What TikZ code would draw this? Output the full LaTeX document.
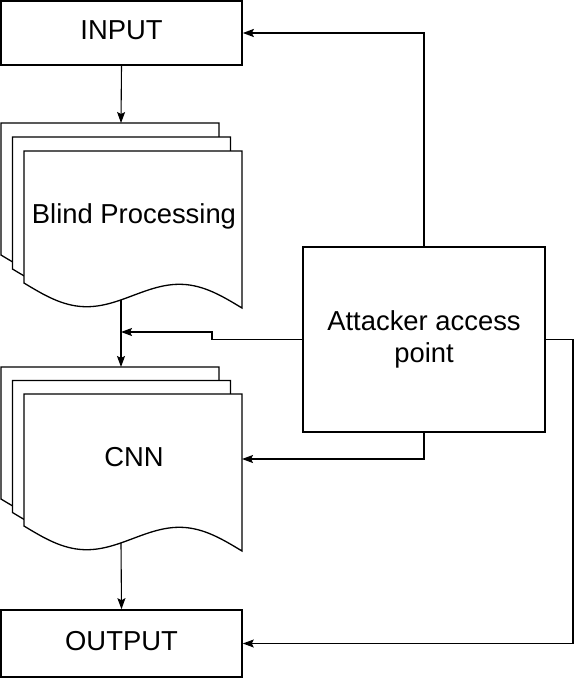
\documentclass[tikz,border=0pt]{standalone}
\usepackage{fontspec}
\setmainfont{Liberation Sans}
\usetikzlibrary{arrows.meta}
\newcommand\mydocsheet[2]{%
  \filldraw[sheet,shift={(#1,#2)}] (0,132) -- (0,0) -- (218,0) -- (218,157)
    -- plot[domain=218:0,samples=60,smooth] (\x,{132+0.11468*\x+17*sin(1.65138*\x)}) -- cycle;}
\begin{document}
\begin{tikzpicture}[x=1pt,y=-1pt,
  lbl/.style={font=\fontsize{27.4}{32}\selectfont},
  box/.style={draw, fill=white, line width=1.6pt, inner sep=0pt, lbl},
  capbox/.style={box, minimum width=241pt, text height=13pt, text depth=0pt},
  sheet/.style={draw, fill=white, line width=1.3pt, line join=miter},
  conn/.style={line width=1.1pt, -{Stealth[length=11pt,width=8pt,inset=2pt]}}]
\path[fill=white,use as bounding box] (0,0) rectangle (574,678);

% boxes
\node[capbox, minimum height=64pt] (input) at (121.5,33) {INPUT};
\node[capbox, minimum height=67pt] (output) at (121.5,643.5) {OUTPUT};
\node[box, line width=2.6pt, minimum width=242pt, minimum height=185pt, align=center] (att) at (424,339.5) {Attacker access\\point};

% Blind Processing stack
\mydocsheet{1}{123}
\mydocsheet{12.5}{137}
\mydocsheet{24}{151}
\node[lbl, anchor=base] (bp) at (134,223) {Blind Processing};

% CNN stack
\mydocsheet{1}{367}
\mydocsheet{12.5}{380.5}
\mydocsheet{24}{394}
\node[lbl, anchor=base] (cnn) at (134,466) {CNN};

\coordinate (bptop) at (121,123);
\coordinate (bpbot) at (121,300);
\coordinate (cnntop) at (121,367);
\coordinate (cnnbot) at (121,543);
\coordinate (cnnright) at (242,459);
\coordinate (bpjoin) at (121,332);
\coordinate (bend) at (212,339.5);
\coordinate (rbend) at (573,339.5);

% connectors
\draw[conn] (input.south) -- (bptop);
\draw[conn] (bpbot) -- (cnntop);
\draw[conn] (cnnbot) -- (output.north);
\draw[conn, line width=2pt] (att.north) |- (input.east);
\draw[conn] (att.west) -- (bend) |- (bpjoin);
\draw[conn] (att.south) |- (cnnright);
\draw[conn] (att.east) -- (rbend) |- (output.east);
\end{tikzpicture}
\end{document}
